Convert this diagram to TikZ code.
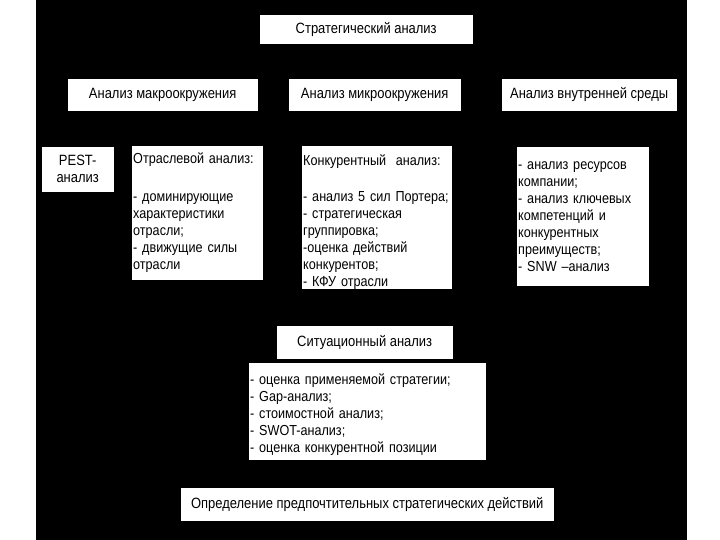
\documentclass[tikz,border=0pt]{standalone}
\usepackage{fontspec}
\setmainfont[FakeStretch=0.87]{Liberation Sans}
\usetikzlibrary{positioning}

\begin{document}
\begin{tikzpicture}[x=1pt, y=-1pt]
% Define
\tikzstyle{TITLE} = [rectangle, fill=white, draw=black, anchor=north west, inner sep=0pt, align=center, font=\fontsize{14.9}{17}\selectfont]
\tikzstyle{LIST} = [rectangle, fill=white, draw=black, anchor=north west, inner xsep=2pt, inner ysep=0pt, align=left, font=\fontsize{14.5}{17}\selectfont]
% Background
\useasboundingbox (0,0) rectangle (720,540);
\fill [white] (0,0) rectangle (720,540);
\fill [black] (36,0) rectangle (687,540);
% Place nodes
\node [TITLE, minimum width=214, minimum height=30] (strat) at (259,14) {Стратегический анализ};
\node [TITLE, minimum width=191, minimum height=33] (macro) at (67,78) {Анализ макроокружения};
\node [TITLE, minimum width=173, minimum height=33] (micro) at (288,78) {Анализ микроокружения};
\node [TITLE, minimum width=176, minimum height=33] (inner) at (501,78) {Анализ внутренней среды};
\node [TITLE, minimum width=73, minimum height=46] (pest) at (41,146) {PEST-\\анализ};
\node [LIST, text width=128, minimum height=135] (otrasl) at (131,145)
  {Отраслевой анализ:\\[21pt]- доминирующие\\характеристики\\отрасли;\\- движущие силы\\отрасли};
\node [LIST, text width=147, minimum height=144] (konk) at (301,145)
  {\rule{0pt}{20pt}Конкурентный \ анализ:\\[19pt]- анализ 5 сил Портера;\\- стратегическая\\группировка;\\-оценка действий\\конкурентов;\\- КФУ отрасли};
\node [LIST, text width=129, minimum height=140] (vnutr) at (516,146)
  {- анализ ресурсов\\компании;\\- анализ ключевых\\компетенций и\\конкурентных\\преимуществ;\\- SNW –анализ\\[4pt]};
\node [TITLE, minimum width=177, minimum height=34] (sit) at (276,325) {Ситуационный анализ};
\node [LIST, text width=234, minimum height=98] (sit_list) at (248,362)
  {\rule{0pt}{18pt}- оценка применяемой стратегии;\\- Gap-анализ;\\- стоимостной анализ;\\- SWOT-анализ;\\- оценка конкурентной позиции};
\node [TITLE, minimum width=374, minimum height=34] (decision) at (180,487) {Определение предпочтительных стратегических действий};
\end{tikzpicture}
\end{document}
